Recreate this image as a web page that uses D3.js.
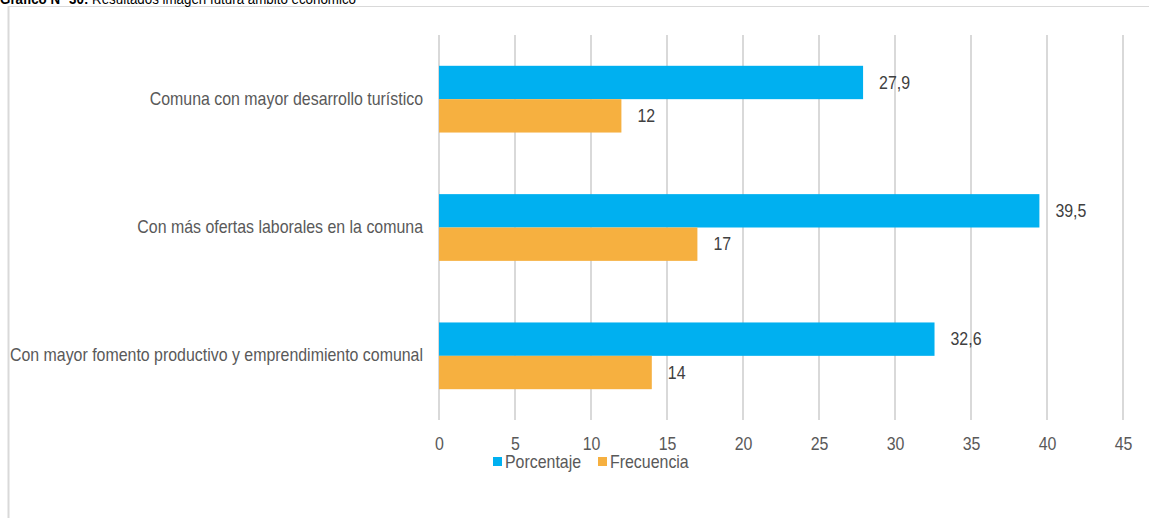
<!DOCTYPE html>
<html>
<head>
<meta charset="utf-8">
<script src="https://cdn.jsdelivr.net/npm/d3@7"></script>
<style>
  body { margin: 0; background: #fff; }
  svg text { font-family: "Liberation Sans", Arial, sans-serif; }
</style>
</head>
<body>
<div id="chart"></div>
<script>
(function(){

  var categories = [
    "Comuna con mayor desarrollo turístico",
    "Con más ofertas laborales en la comuna",
    "Con mayor fomento productivo y emprendimiento comunal"
  ];
  var porcentaje = [27.9, 39.5, 32.6];
  var frecuencia = [12, 17, 14];
  var seriesNames = ["Porcentaje", "Frecuencia"];
  var seriesColors = ["#00B0F0", "#F6B040"];
  var xTicks = [0, 5, 10, 15, 20, 25, 30, 35, 40, 45];

  var width = 1149;
  var height = 518;
  var left = 439, right = 1123, top = 35, bottom = 420;
  // the source uses a narrow face; squeeze Liberation Sans to match
  var narrow = "scale(0.91,1)";
  var fs = 17.5;

  var svg = d3.select("#chart")
    .append("svg")
    .attr("width", width)
    .attr("height", height);

  // frame
  svg.append("line").attr("x1", 8).attr("x2", width).attr("y1", 6.5).attr("y2", 6.5)
    .attr("stroke", "#D9D9D9").attr("stroke-width", 1);
  svg.append("line").attr("x1", 8.5).attr("x2", 8.5).attr("y1", 6).attr("y2", height)
    .attr("stroke", "#D9D9D9").attr("stroke-width", 2);

  // title, cut at the top like the source
  var title = svg.append("text")
    .attr("transform", "translate(0,4) scale(0.89,1)")
    .attr("font-size", 15).attr("fill", "#000");
  title.append("tspan").attr("font-weight", "bold").text("Gráfico N° 30:");
  title.append("tspan").text(" Resultados imagen futura ámbito económico");

  var x = d3.scaleLinear().domain([0, 45]).range([left, right]);

  var y = d3.scaleBand()
    .domain(categories)
    .range([top, bottom])
    .paddingInner(0.48)
    .paddingOuter(0.24);

  var ySub = d3.scaleBand()
    .domain(seriesNames)
    .range([0, y.bandwidth()]);

  // gridlines
  svg.append("g").selectAll("line")
    .data(xTicks)
    .enter()
    .append("line")
    .attr("x1", function(d){ return x(d); })
    .attr("x2", function(d){ return x(d); })
    .attr("y1", top)
    .attr("y2", bottom)
    .attr("stroke", "#D9D9D9")
    .attr("stroke-width", 2);

  // x axis labels
  var xAxis = svg.append("g")
    .attr("transform", "translate(0," + bottom + ")")
    .call(d3.axisBottom(x).tickValues(xTicks).tickSize(0).tickPadding(18));
  xAxis.select(".domain").remove();
  xAxis.selectAll("text").attr("font-size", fs).attr("fill", "#595959")
    .attr("transform", narrow)
    .style("font-family", "'Liberation Sans', Arial, sans-serif");

  // category labels
  var yAxis = svg.append("g")
    .attr("transform", "translate(" + (left - 16) + ",0)")
    .call(d3.axisLeft(y).tickSize(0).tickPadding(0));
  yAxis.select(".domain").remove();
  yAxis.selectAll("text").attr("font-size", fs).attr("fill", "#595959")
    .attr("transform", narrow)
    .style("font-family", "'Liberation Sans', Arial, sans-serif");

  var rows = categories.map(function(c, i){
    return { category: c, values: [porcentaje[i], frecuencia[i]] };
  });

  var groups = svg.append("g").selectAll("g")
    .data(rows)
    .enter()
    .append("g")
    .attr("transform", function(d){ return "translate(0," + y(d.category) + ")"; });

  var items = groups.selectAll("g")
    .data(function(d){
      return d.values.map(function(v, i){ return { name: seriesNames[i], value: v, color: seriesColors[i] }; });
    })
    .enter()
    .append("g");

  items.append("rect")
    .attr("x", x(0))
    .attr("y", function(d){ return ySub(d.name); })
    .attr("width", function(d){ return x(d.value) - x(0); })
    .attr("height", ySub.bandwidth())
    .attr("fill", function(d){ return d.color; });

  items.append("text")
    .attr("transform", function(d){
      return "translate(" + (x(d.value) + 16) + "," + (ySub(d.name) + ySub.bandwidth() / 2) + ") " + narrow;
    })
    .attr("dy", "0.35em")
    .attr("font-size", fs)
    .attr("fill", "#404040")
    .text(function(d){ return String(d.value).replace(".", ","); });

  // legend
  var legend = svg.append("g").attr("transform", "translate(493,462)");
  var legendX = [0, 105];
  seriesNames.forEach(function(name, i){
    var g = legend.append("g").attr("transform", "translate(" + legendX[i] + ",0)");
    g.append("rect").attr("x", 0).attr("y", -5).attr("width", 9).attr("height", 9)
      .attr("fill", seriesColors[i]);
    g.append("text").attr("transform", "translate(12,0) " + narrow).attr("dy", "0.35em")
      .attr("font-size", fs).attr("fill", "#595959").text(name);
  });

})();
</script>
</body>
</html>
